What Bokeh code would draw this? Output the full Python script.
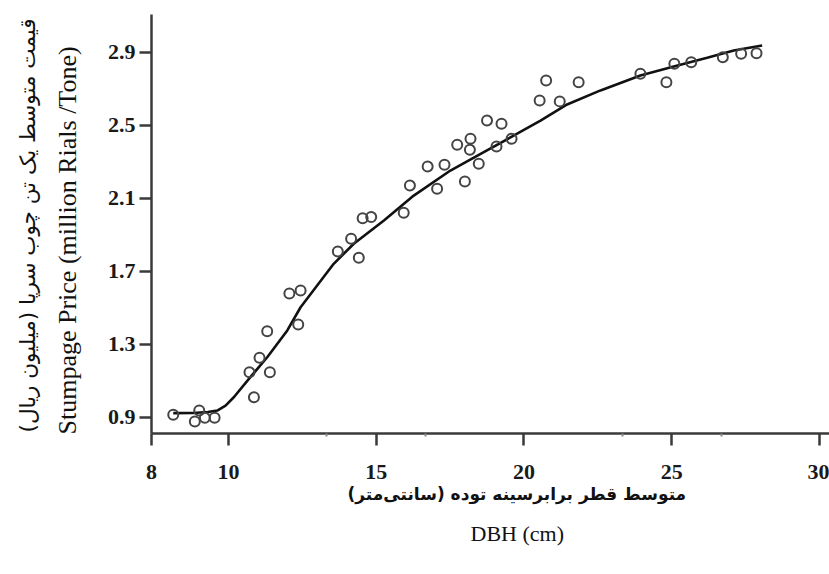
from bokeh.plotting import figure
from bokeh.models import FixedTicker, Range1d, Title
from bokeh.embed import file_html
from bokeh.resources import INLINE

# observed data (DBH cm, stumpage price million rials / tone)
dbh = [8.13, 8.86, 9.01, 9.20, 9.53, 10.86, 10.71, 11.05, 11.40, 11.31, 12.36,
       12.06, 12.44, 13.70, 14.15, 14.41, 14.54, 14.83, 15.93, 16.14, 16.74,
       17.06, 17.31, 17.74, 18.00, 18.19, 18.17, 18.47, 18.75, 19.07, 19.24,
       19.58, 20.53, 20.75, 21.21, 21.85, 23.94, 24.82, 25.09, 25.66, 26.73,
       27.35, 27.87]
price = [0.915, 0.878, 0.938, 0.898, 0.898, 1.011, 1.148, 1.227, 1.148, 1.373,
         1.410, 1.579, 1.596, 1.810, 1.879, 1.775, 1.992, 1.998, 2.022, 2.171,
         2.275, 2.153, 2.285, 2.394, 2.193, 2.427, 2.367, 2.290, 2.527, 2.385,
         2.509, 2.427, 2.637, 2.747, 2.632, 2.737, 2.783, 2.737, 2.838, 2.847,
         2.874, 2.893, 2.896]

# fitted curve
fit_x = [8.13, 8.8, 9.3, 9.62, 9.9, 10.18, 10.74, 11.31, 11.99, 12.44, 13.56,
         14.24, 15.26, 16.27, 17.51, 18.64, 19.77, 20.56, 21.46, 22.59, 23.94,
         25.07, 26.20, 27.10, 28.06]
fit_y = [0.924, 0.925, 0.93, 0.938, 0.965, 1.011, 1.121, 1.230, 1.377, 1.504,
         1.742, 1.852, 1.979, 2.116, 2.253, 2.354, 2.455, 2.527, 2.615, 2.692,
         2.774, 2.823, 2.871, 2.911, 2.938]

X0, X1 = 7.394, 30.34
Y0, Y1 = 0.8123, 3.108

x_ticks = [X0, 10, 15, 20, 25, 30]
x_tick_labels = {X0: "8"}
x_minor = [13.33, 16.67, 23.33, 26.67]
y_ticks = [0.9, 1.3, 1.7, 2.1, 2.5, 2.9]

y_label_fa = "قیمت متوسط یک تن چوب سرپا (میلیون ریال)"
y_label_en = "Stumpage Price (million Rials /Tone)"
x_label_fa = "متوسط قطر برابرسینه توده (سانتی\u200cمتر)"
x_label_en = "DBH (cm)"

p = figure(width=829, height=574, output_backend="svg", toolbar_location=None,
           x_range=Range1d(X0, X1), y_range=Range1d(Y0, Y1),
           min_border_left=151, min_border_right=0, min_border_top=14,
           min_border_bottom=141)
p.outline_line_color = None
p.grid.visible = False
p.background_fill_color = "white"
p.border_fill_color = "white"

axis_col = "#3a3a3a"
for ax in (p.xaxis[0], p.yaxis[0]):
    ax.axis_line_color = axis_col
    ax.axis_line_width = 2.5
    ax.major_tick_line_color = axis_col
    ax.major_tick_line_width = 2.5
    ax.major_tick_in = 0
    ax.major_tick_out = 12
    ax.major_label_text_font = "Liberation Serif"
    ax.major_label_text_font_style = "bold"
    ax.major_label_text_font_size = "22px"
    ax.major_label_text_color = "#1a1a1a"

p.xaxis.ticker = FixedTicker(ticks=x_ticks, minor_ticks=x_minor)
p.xaxis.major_label_overrides = x_tick_labels
p.xaxis.minor_tick_line_color = "#888888"
p.xaxis.minor_tick_line_width = 2
p.xaxis.minor_tick_in = 0
p.xaxis.minor_tick_out = 3
p.xaxis.major_label_standoff = 19

p.yaxis.ticker = FixedTicker(ticks=y_ticks, minor_ticks=[])
p.yaxis.minor_tick_line_color = None
p.yaxis.major_label_standoff = 4

p.line(fit_x, fit_y, line_color="#111111", line_width=2.6)
p.scatter(dbh, price, marker="circle", size=10, fill_color=None,
          line_color="#444444", line_width=2)

# left titles: first added is nearest the axis
p.add_layout(Title(text=y_label_en, align="left", offset=-1, standoff=46,
                   text_font="Times New Roman", text_font_style="normal",
                   text_font_size="26px", text_color="#111111"), "left")
p.add_layout(Title(text=y_label_fa, align="left", offset=1, standoff=-24,
                   text_font="DejaVu Sans", text_font_style="normal",
                   text_font_size="21.5px", text_color="#111111"), "left")
p.add_layout(Title(text=x_label_fa, align="left", offset=196, standoff=0,
                   text_font="DejaVu Sans", text_font_style="bold",
                   text_font_size="17px", text_color="#111111"), "below")
p.add_layout(Title(text=x_label_en, align="left", offset=319, standoff=31,
                   text_font="Times New Roman", text_font_style="normal",
                   text_font_size="22px", text_color="#111111"), "below")

open("out.html", "w").write(file_html(p, INLINE))
